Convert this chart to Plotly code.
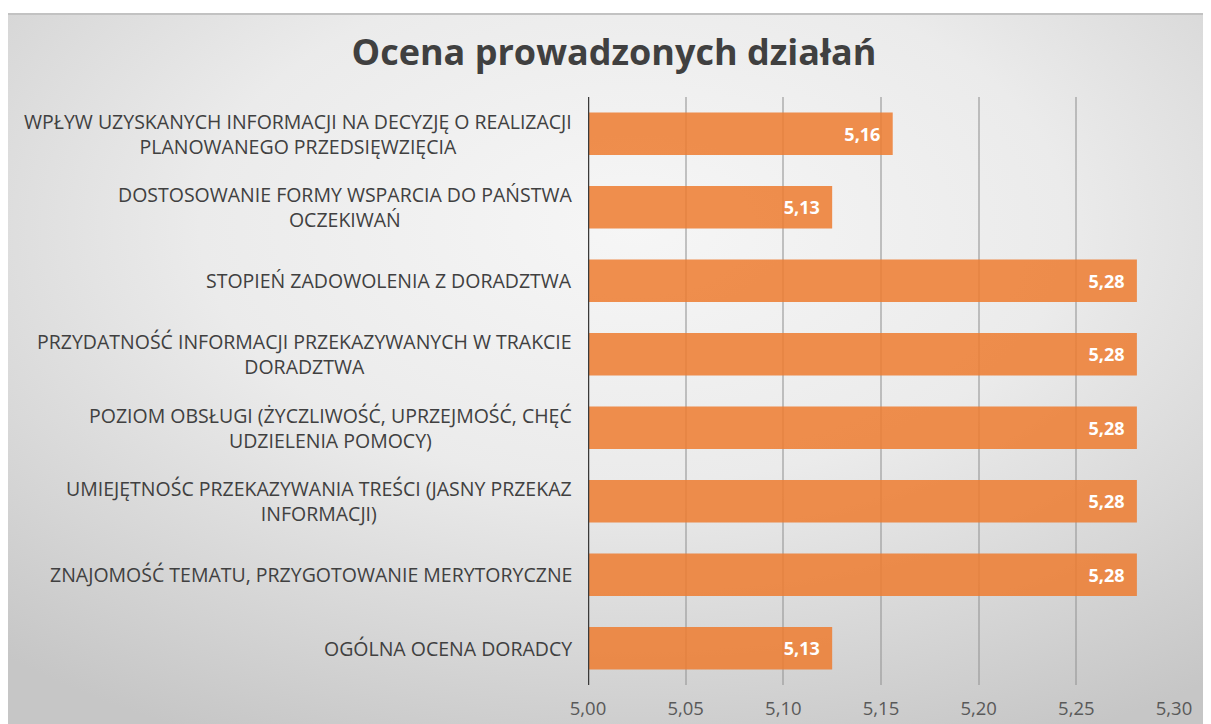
import base64
import plotly.graph_objects as go

# Dane (od góry do dołu)
categories = [
    "WPŁYW UZYSKANYCH INFORMACJI NA DECYZJĘ O REALIZACJI<br>PLANOWANEGO PRZEDSIĘWZIĘCIA",
    "DOSTOSOWANIE FORMY WSPARCIA DO PAŃSTWA<br>OCZEKIWAŃ",
    "STOPIEŃ ZADOWOLENIA Z DORADZTWA",
    "PRZYDATNOŚĆ INFORMACJI PRZEKAZYWANYCH W TRAKCIE<br>DORADZTWA",
    "POZIOM OBSŁUGI (ŻYCZLIWOŚĆ, UPRZEJMOŚĆ, CHĘĆ<br>UDZIELENIA POMOCY)",
    "UMIEJĘTNOŚC PRZEKAZYWANIA TREŚCI (JASNY PRZEKAZ<br>INFORMACJI)",
    "ZNAJOMOŚĆ TEMATU, PRZYGOTOWANIE MERYTORYCZNE",
    "OGÓLNA OCENA DORADCY",
]
values = [5.156, 5.125, 5.281, 5.281, 5.281, 5.281, 5.281, 5.125]
tick_vals = [5.00, 5.05, 5.10, 5.15, 5.20, 5.25, 5.30]

# strona ma 8px marginesu body -> figura mniejsza o 8px
W, H = 1203, 716
L, R, T, B = 580, 37, 89, 39
pw, ph = W - L - R, H - T - B
bg_top = 5

# tło: gradient radialny jak w Excelu
svg = f"""<svg xmlns='http://www.w3.org/2000/svg' width='{W}' height='{H - bg_top}' viewBox='0 0 {W} {H - bg_top}' preserveAspectRatio='none'>
<defs><radialGradient id='g' cx='52%' cy='30%' r='80%'>
<stop offset='0' stop-color='#f6f6f6'/><stop offset='0.45' stop-color='#ebebeb'/><stop offset='1' stop-color='#c6c6c6'/>
</radialGradient></defs>
<rect width='{W}' height='{H - bg_top}' fill='url(#g)'/>
<rect width='{W}' height='2' fill='#c2c2c2'/>
</svg>"""
bg_src = "data:image/svg+xml;base64," + base64.b64encode(svg.encode()).decode()

fig = go.Figure()

fig.add_trace(go.Bar(
    x=values,
    y=categories,
    orientation="h",
    marker=dict(color="rgba(237,125,49,0.86)", line=dict(width=0)),
    texttemplate="%{x:.2f}\u00a0\u00a0",
    textposition="inside",
    insidetextanchor="end",
    textfont=dict(family="Open Sans", size=18, color="white", weight="bold"),
    width=0.58,
    hoverinfo="skip",
))

# etykiety kategorii wyśrodkowane jak w Excelu
for c in categories:
    fig.add_annotation(
        x=0, xref="paper", y=c, yref="y",
        text=c, showarrow=False,
        xanchor="right", xshift=-14, align="center",
        font=dict(family="Open Sans", size=19.5, color="#404040"),
    )

fig.add_layout_image(
    source=bg_src, xref="paper", yref="paper",
    x=-L / pw, y=(H - B - bg_top) / ph,
    sizex=W / pw, sizey=(H - bg_top) / ph,
    xanchor="left", yanchor="top", sizing="stretch", layer="below",
)

fig.update_layout(
    width=W, height=H,
    margin=dict(l=L, r=R, t=T, b=B, autoexpand=False),
    paper_bgcolor="white",
    plot_bgcolor="rgba(0,0,0,0)",
    separators=", ",
    showlegend=False,
    title=dict(
        text="Ocena prowadzonych działań",
        x=606 / W, xanchor="center", y=1 - 44 / H, yanchor="middle",
        font=dict(family="Open Sans", size=36, color="#404040", weight="bold"),
    ),
    xaxis=dict(
        range=[5.0, 5.3],
        tickvals=tick_vals,
        tickformat=".2f",
        showgrid=True, gridcolor="rgba(150,150,150,0.55)", gridwidth=1.5,
        zeroline=False, showline=False, ticks="",
        ticklabelstandoff=10,
        automargin=False,
        tickfont=dict(family="Open Sans", size=18.5, color="#595959"),
        fixedrange=True,
    ),
    yaxis=dict(
        autorange="reversed",
        showticklabels=False, showgrid=False, zeroline=False,
        showline=False, ticks="", automargin=False,
    ),
)
# oś pionowa przy 5,00
fig.add_shape(type="line", xref="x", yref="paper", x0=5.0, x1=5.0, y0=0, y1=1,
              line=dict(color="#3a3a3a", width=2.5))

fig.write_html("out.html")
